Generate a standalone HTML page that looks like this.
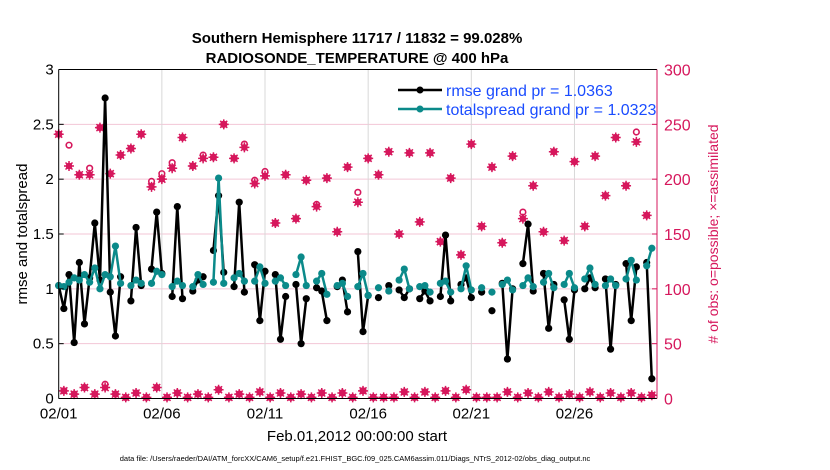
<!DOCTYPE html>
<html><head><meta charset="utf-8">
<style>
body{margin:0;background:#fff;}
svg{display:block;font-family:"Liberation Sans",sans-serif;}
</style></head>
<body>
<svg id="chart" width="830" height="470" viewBox="0 0 830 470" xmlns="http://www.w3.org/2000/svg">
<text x="357" y="43" text-anchor="middle" font-size="15" font-weight="bold">Southern Hemisphere 11717 / 11832 = 99.028%</text>
<text x="357" y="63" text-anchor="middle" font-size="15" font-weight="bold">RADIOSONDE_TEMPERATURE @ 400 hPa</text>
<g id="grid"></g>
<g id="marks"></g>
<g id="axes"></g>
<text transform="translate(27,234) rotate(-90)" text-anchor="middle" font-size="15">rmse and totalspread</text>
<text transform="translate(718,234) rotate(-90)" text-anchor="middle" font-size="14" fill="#d6175c"># of obs: o=possible; ×=assimilated</text>
<text x="357" y="441" text-anchor="middle" font-size="15">Feb.01,2012 00:00:00 start</text>
<text x="355" y="461" text-anchor="middle" font-size="7.5">data file: /Users/raeder/DAI/ATM_forcXX/CAM6_setup/f.e21.FHIST_BGC.f09_025.CAM6assim.011/Diags_NTrS_2012-02/obs_diag_output.nc</text>
<g id="legend">
  <line x1="398" y1="90" x2="442" y2="90" stroke="#000" stroke-width="2.5"/>
  <circle cx="420" cy="90" r="3.5" fill="#000"/>
  <text x="446" y="96" font-size="16" fill="#1a4cff">rmse grand pr = 1.0363</text>
  <line x1="398" y1="109" x2="442" y2="109" stroke="#0b8a8a" stroke-width="2.5"/>
  <circle cx="420" cy="109" r="3.5" fill="#0b8a8a"/>
  <text x="446" y="115" font-size="16" fill="#1a4cff">totalspread grand pr = 1.0323</text>
</g>
</svg>
<script>
const xTickLabels = ["02/01","02/06","02/11","02/16","02/21","02/26"];
const xTickDays = [0,5,10,15,20,25];
const yLeftTicks = ["0","0.5","1","1.5","2","2.5","3"];
const yRightTicks = ["0","50","100","150","200","250","300"];
const rmse = [1.03,0.82,1.13,0.51,1.24,0.68,1.10,1.60,1.08,2.74,0.97,0.57,1.11,null,0.89,1.56,1.03,null,1.18,1.70,1.14,null,0.93,1.75,0.91,null,0.98,1.08,1.11,null,1.35,1.85,1.15,null,1.02,1.79,0.97,null,1.22,0.71,1.16,null,1.13,0.54,0.93,null,1.04,0.50,0.91,null,1.01,0.98,0.71,null,1.02,1.08,0.79,null,1.34,0.61,0.94,null,0.92,null,1.03,null,0.99,0.92,1.00,null,0.91,0.98,0.89,null,0.93,1.49,0.89,null,1.04,1.10,0.92,null,0.97,null,0.80,null,1.05,0.36,1.00,null,1.23,1.59,0.98,null,1.14,0.64,1.04,null,0.90,0.54,0.99,null,1.00,1.10,1.01,null,1.09,0.45,1.04,null,1.23,0.71,1.20,null,1.24,0.18];
const spread = [1.03,1.02,1.06,1.10,1.08,1.13,1.06,1.19,1.00,1.13,1.11,1.39,1.05,null,1.03,1.08,1.05,null,1.05,1.16,1.13,null,1.02,1.07,1.03,null,1.02,1.13,1.04,null,1.06,2.01,1.05,null,1.10,1.14,1.07,null,1.07,1.20,1.05,null,1.07,1.10,1.03,null,1.13,1.29,1.03,null,1.07,1.14,0.95,null,1.03,1.05,0.93,null,1.02,1.14,0.94,null,1.01,null,0.98,null,1.08,1.18,1.00,null,1.02,1.03,0.97,null,1.05,1.07,0.97,null,1.00,1.21,0.99,null,1.01,null,0.97,null,1.04,1.08,0.99,null,1.03,1.10,1.02,null,1.06,1.14,1.01,null,1.04,1.14,1.01,null,1.09,1.19,1.04,null,1.03,1.09,1.03,null,1.09,1.26,1.08,null,1.21,1.37];
const nAssim = [241,7,212,4,204,10,204,4,247,10,205,4,222,1,228,5,241,1,193,10,200,1,210,5,238,1,212,4,219,1,220,8,250,1,219,4,229,1,196,6,203,1,160,5,204,1,164,4,199,1,175,5,201,1,152,5,211,1,179,7,219,1,204,1,225,1,150,6,224,1,161,6,224,1,143,7,201,1,131,8,232,1,157,1,211,1,142,6,221,1,164,5,194,1,152,6,225,1,144,4,216,1,157,6,221,1,185,5,238,1,194,5,234,1,167,3];
const nPoss = [241,7,231,4,204,10,210,4,247,13,205,4,222,1,228,5,241,1,198,10,205,1,215,5,238,1,212,4,222,1,220,8,250,1,219,4,232,1,199,6,207,1,160,5,204,1,164,4,199,1,177,5,201,1,152,5,211,1,188,7,219,1,204,1,225,1,150,6,224,1,161,6,224,1,143,7,201,1,131,8,232,1,157,1,211,1,142,6,221,1,170,5,194,1,152,6,225,1,144,4,216,1,157,6,221,1,185,5,238,1,194,5,243,1,167,3];

const X0=58.7, X1=657, Y0=398.5, Y1=69.5, DAYS=29;
function xScale(t){return X0+(X1-X0)*t/DAYS;}
function yLeft(v){return Y0-(Y0-Y1)*v/3;}
function yRight(n){return Y0-(Y0-Y1)*n/300;}
function slotTime(i){return i*0.25;}
const NS="http://www.w3.org/2000/svg";
function mk(tag,attrs,parent){const e=document.createElementNS(NS,tag);for(const k in attrs)e.setAttribute(k,attrs[k]);parent.appendChild(e);return e;}
const grid=document.getElementById('grid'), marks=document.getElementById('marks'), axes=document.getElementById('axes');
const RED="#d6175c", TEAL="#0b8a8a";

yLeftTicks.forEach((lab,i)=>{
  const y=yLeft(parseFloat(lab));
  if(i>0&&i<yLeftTicks.length-1){const g=mk('line',{x1:X0,x2:X1,y1:y,y2:y,stroke:"#f3c6d6","stroke-width":1},grid);
  
  }
  const t=mk('text',{x:X0-5,y:y+5,'text-anchor':'end','font-size':15},axes);t.textContent=lab;
  
  
  mk('line',{x1:X0,x2:X0+5,y1:y,y2:y,stroke:"#000"},axes);
});
yRightTicks.forEach((lab)=>{
  const y=yRight(parseFloat(lab));
  const t=mk('text',{x:X1+7,y:y+6,'font-size':16,fill:RED},axes);t.textContent=lab;
  
  
  mk('line',{x1:X1-5,x2:X1,y1:y,y2:y,stroke:RED},axes);
});
xTickLabels.forEach((lab,i)=>{
  const x=xScale(xTickDays[i]);
  if(i>0){const g=mk('line',{x1:x,x2:x,y1:Y1,y2:Y0,stroke:"#d8d8d8","stroke-width":1},grid);
  
  }
  const t=mk('text',{x:x,y:Y0+20,'text-anchor':'middle','font-size':15},axes);t.textContent=lab;
  
  
});
mk('line',{x1:X0,x2:X1,y1:Y0,y2:Y0,stroke:"#000"},axes);
mk('line',{x1:X0,x2:X1,y1:Y1,y2:Y1,stroke:"#000"},axes);
mk('line',{x1:X0,x2:X0,y1:Y1,y2:Y0,stroke:"#000"},axes);
mk('line',{x1:X1,x2:X1,y1:Y1,y2:Y0,stroke:RED},axes);

// counts
nPoss.forEach((n,i)=>{
  const c=mk('circle',{cx:xScale(slotTime(i)),cy:yRight(n),r:2.8,fill:"none",stroke:RED,"stroke-width":1.6},marks);
  
  
});
nAssim.forEach((n,i)=>{
  const x=xScale(slotTime(i)), y=yRight(n);
  const g=mk('g',{},marks);
  
  
  mk('circle',{cx:x,cy:y,r:3.3,fill:RED},g);
  mk('path',{d:`M${x-5},${y}H${x+5}M${x},${y-5}V${y+5}M${x-3.5},${y-3.5}L${x+3.5},${y+3.5}M${x-3.5},${y+3.5}L${x+3.5},${y-3.5}`,stroke:RED,"stroke-width":1.5},g);
});
function drawSeries(vals,color,name){
  let d="",pen=false;
  vals.forEach((v,i)=>{
    if(v==null){pen=false;return;}
    d+=(pen?"L":"M")+xScale(slotTime(i)).toFixed(1)+","+yLeft(v).toFixed(1);pen=true;
  });
  const p=mk('path',{d:d,fill:"none",stroke:color,"stroke-width":2.5,"stroke-linejoin":"round"},marks);
  
  
  vals.forEach((v,i)=>{
    if(v==null)return;
    const c=mk('circle',{cx:xScale(slotTime(i)),cy:yLeft(v),r:3.6,fill:color},marks);
    
    
  });
}
drawSeries(rmse,"#000","rmse");
drawSeries(spread,TEAL,"totalspread");
</script>
</body></html>
